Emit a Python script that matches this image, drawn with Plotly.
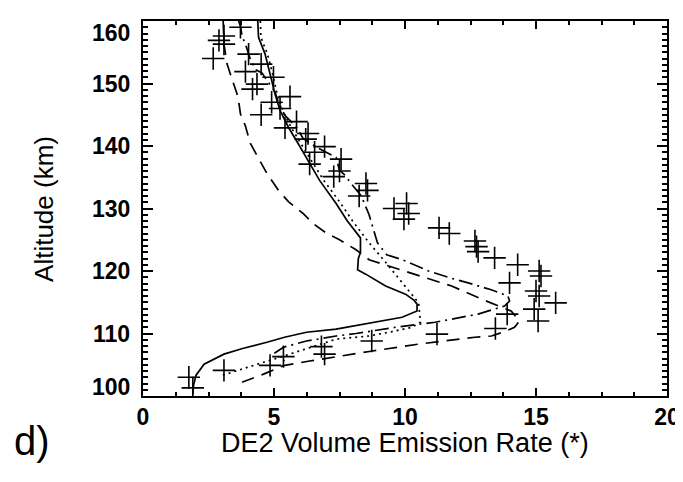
import plotly.graph_objects as go

# Observed volume emission rate (crosses)
obs_rate = [3.72, 3.09, 2.90, 3.09, 2.68, 4.03, 4.51, 3.91, 4.98, 4.35, 4.18, 5.61, 4.91, 5.23,
            4.51, 5.86, 5.42, 6.30, 6.21, 6.93, 6.55, 7.56, 6.36, 7.50, 7.28, 8.51, 8.57, 8.25,
            9.58, 10.06, 10.14, 9.96, 11.30, 11.69, 12.67, 12.73, 12.79, 13.42, 14.30, 15.12,
            15.19, 13.99, 15.00, 15.12, 15.75, 14.93, 13.90, 15.08, 13.45, 11.22, 8.73, 6.81,
            6.93, 5.36, 4.85, 3.09, 1.75, 1.90]
obs_alt = [159.0, 157.6, 156.9, 156.3, 154.0, 154.7, 153.1, 151.9, 151.0, 149.9, 149.1, 147.9,
           147.0, 146.0, 145.0, 143.9, 142.9, 142.0, 141.1, 139.9, 139.0, 137.9, 137.1, 136.0,
           135.1, 134.0, 132.9, 132.0, 130.0, 130.8, 129.2, 128.3, 126.9, 126.0, 124.8, 123.9,
           123.1, 122.1, 121.0, 120.0, 119.2, 118.1, 116.8, 116.0, 114.9, 113.9, 113.1, 112.0,
           110.8, 109.9, 108.8, 107.9, 106.7, 106.3, 104.9, 104.1, 103.0, 101.3]

# Model profile 1 (solid)
solid_alt = [160.0, 157.4, 154.7, 151.5, 148.3, 145.7, 143.0, 140.4, 137.7, 134.5, 130.8, 128.0,
             125.3, 123.0, 122.0, 121.0, 120.2, 119.5, 118.5, 117.6, 116.3, 115.3, 114.7, 113.6,
             112.6, 111.3, 110.7, 110.2, 109.4, 108.6, 107.6, 106.7, 105.1, 103.3, 101.7, 100.2]
solid_rate = [4.38, 4.41, 4.66, 4.85, 5.04, 5.23, 5.55, 5.92, 6.30, 6.74, 7.37, 7.80,
              8.30, 8.30, 8.22, 8.19, 8.19, 8.50, 8.90, 9.26, 10.02, 10.35, 10.46, 10.46,
              9.89, 8.13, 7.37, 6.24, 5.40, 4.73, 3.80, 3.09, 2.33, 2.02, 1.93, 1.90]

# Model profile 2 (dotted)
dot_alt = [160.0, 157.4, 154.7, 151.5, 148.3, 145.7, 143.0, 140.4, 137.7, 134.5, 130.8, 128.0,
           126.0, 124.5, 121.4, 119.7, 117.5, 114.9, 111.8, 111.0, 110.3, 109.6, 109.1, 108.6,
           108.0, 107.0, 106.2, 105.4, 104.3, 103.3]
dot_rate = [4.48, 4.50, 4.75, 4.95, 5.12, 5.33, 5.65, 6.02, 6.42, 6.90, 7.55, 8.00,
            8.35, 8.63, 9.26, 9.58, 10.02, 10.52, 10.59, 10.27, 9.50, 8.63, 7.37, 7.00,
            6.62, 5.80, 5.23, 4.60, 3.72, 3.02]

# Model profile 3 (dash-dot)
dd_alt = [160.0, 159.2, 157.6, 156.3, 153.8, 152.2, 151.7, 148.6, 147.2, 145.0, 143.0, 141.2,
          139.8, 138.2, 136.1, 135.3, 134.0, 132.1, 129.0, 126.5, 124.5, 122.6, 121.8, 120.0,
          118.9, 118.1, 117.0, 116.0, 115.2, 114.4, 114.1, 113.1, 111.8, 111.0, 110.0, 109.6,
          108.8, 107.8, 106.8, 105.6]
dd_rate = [3.65, 3.72, 3.78, 3.91, 4.10, 4.30, 4.54, 5.04, 5.15, 5.40, 5.86, 6.11,
           6.62, 7.37, 7.50, 7.72, 7.94, 8.32, 8.63, 8.80, 8.95, 9.30, 9.90, 10.90,
           11.72, 12.41, 13.29, 13.93, 13.99, 13.80, 13.55, 12.79, 11.15, 9.64, 8.13, 7.37,
           6.24, 5.36, 5.00, 5.40]

# Model profile 4 (long dash)
ld_alt = [160.0, 156.3, 153.1, 149.4, 147.8, 145.1, 143.3, 140.4, 137.7, 135.6, 132.9, 131.1,
          129.2, 127.6, 126.05, 125.0, 123.4, 121.8, 119.7, 117.6, 115.5, 113.6, 112.0, 111.0,
          110.3, 109.6, 109.4, 108.8, 108.3, 107.2, 106.4, 105.6, 104.85, 103.5, 102.2]
ld_rate = [3.06, 3.09, 3.21, 3.50, 3.63, 3.72, 3.90, 4.10, 4.47, 4.73, 5.17, 5.55,
           6.11, 6.49, 7.00, 7.50, 8.13, 8.63, 10.20, 11.78, 12.92, 14.05, 14.37, 14.18,
           13.80, 13.30, 12.67, 11.53, 10.52, 8.76, 7.50, 6.36, 5.36, 4.60, 3.78]

x_ticks = [0, 5, 10, 15, 20]
y_ticks = [100, 110, 120, 130, 140, 150, 160]
y_tick_labels = ["100", "110", "120", "130", "140", "150", "160"]
y_label_shift = [9, 0, 0, 0, 0, 0, -12]

FONT = "Liberation Sans"
fig = go.Figure()
lw = 1.7
fig.add_trace(go.Scatter(x=solid_rate, y=solid_alt, mode="lines",
                         line=dict(color="black", width=lw), showlegend=False))
fig.add_trace(go.Scatter(x=dot_rate, y=dot_alt, mode="lines",
                         line=dict(color="black", width=lw, dash="2px,4px"), showlegend=False))
fig.add_trace(go.Scatter(x=dd_rate, y=dd_alt, mode="lines",
                         line=dict(color="black", width=lw, dash="14px,5px,2px,5px"), showlegend=False))
fig.add_trace(go.Scatter(x=ld_rate, y=ld_alt, mode="lines",
                         line=dict(color="black", width=lw, dash="13px,8px"), showlegend=False))
fig.add_trace(go.Scatter(x=obs_rate, y=obs_alt, mode="markers",
                         marker=dict(symbol="cross-thin-open", size=16, color="black",
                                     line=dict(color="black", width=1.6)),
                         showlegend=False))

axis_common = dict(showgrid=False, zeroline=False, showline=True, linecolor="black",
                   linewidth=1.5, mirror="allticks", ticks="inside", tickcolor="black",
                   tickwidth=1.5)
fig.update_xaxes(range=[0, 20], tickvals=x_ticks, ticklen=8,
                 minor=dict(ticks="inside", dtick=1.25, ticklen=4, tickcolor="black", tickwidth=1.5),
                 tickfont=dict(family=FONT, size=23, color="black", weight="bold"),
                 ticklabelstandoff=0,
                 **axis_common)
fig.update_yaxes(range=[100, 160], tickvals=y_ticks, ticklen=10, showticklabels=False,
                 minor=dict(ticks="inside", dtick=1, ticklen=5, tickcolor="black", tickwidth=1.5),
                 **axis_common)

for v, t, s in zip(y_ticks, y_tick_labels, y_label_shift):
    fig.add_annotation(x=0, xref="paper", xanchor="right", xshift=-11, y=v, yref="y",
                       yshift=s, text="<b>" + t + "</b>", showarrow=False,
                       font=dict(family=FONT, size=23, color="black"))

fig.add_annotation(x=0.5, xref="paper", xanchor="center", y=-0.125, yref="paper",
                   yanchor="middle", text="DE2 Volume Emission Rate (*)", showarrow=False,
                   font=dict(family=FONT, size=27, color="black"))

fig.add_annotation(x=-0.19, xref="paper", xanchor="center", y=0.5, yref="paper",
                   yanchor="middle", text="Altitude (km)", textangle=-90, showarrow=False,
                   font=dict(family=FONT, size=26, color="black"))

fig.add_annotation(x=-0.25, xref="paper", y=-0.12, yref="paper", text="d)", showarrow=False,
                   xanchor="left", yanchor="middle",
                   font=dict(family=FONT, size=40, color="black"))

fig.update_layout(width=683, height=482, margin=dict(l=135, r=19, t=11, b=94),
                  paper_bgcolor="white", plot_bgcolor="white")
fig.write_html("out.html")
